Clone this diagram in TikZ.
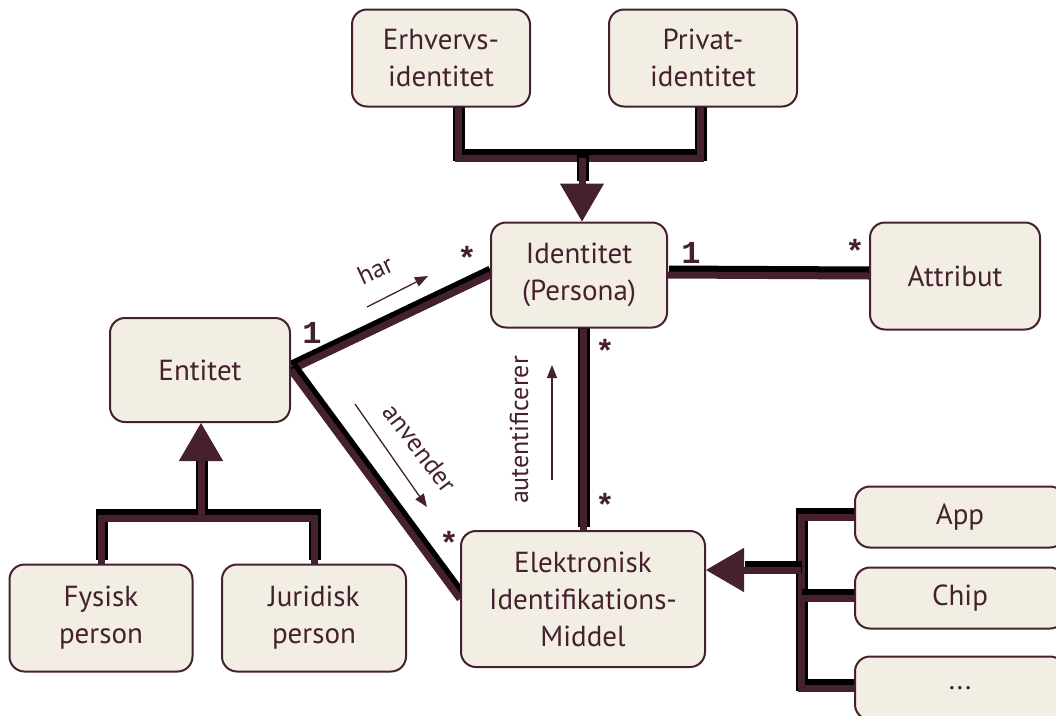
\documentclass[tikz,border=0pt]{standalone}
\usepackage{fontspec}
\setmainfont{PT Sans}
\newfontfamily\multfont{Liberation Mono}
\usetikzlibrary{arrows.meta,backgrounds}
\definecolor{boxfill}{HTML}{F3EEE3}
\definecolor{wine}{HTML}{45202F}

\tikzset{
  box/.style={draw=wine, line width=2pt, fill=boxfill, rounded corners=15pt, text=wine,
    align=center, font=\fontsize{29}{37}\selectfont, inner sep=0pt},
  link/.style={draw=wine, line width=7pt,
    preaction={draw=black, line width=12pt, transform canvas={shift={(1pt,3.5pt)}}}},
  genarrow/.style={draw=wine, fill=wine, line width=1pt, -{Triangle[width=44pt,length=38pt]}},
  mult/.style={text=wine, font=\multfont\bfseries\fontsize{32}{32}\selectfont, inner sep=0pt},
  rolle/.style={text=wine, font=\fontsize{26}{26}\selectfont, inner sep=0pt},
  hint/.style={draw=wine, line width=1.3pt, -{Triangle[width=10pt,length=13pt]}}
}

\begin{document}
\begin{tikzpicture}[x=1pt, y=-1pt]
        \useasboundingbox (0,0) rectangle (1056,715);

        % Identiteter
        \node[box, minimum width=178pt, minimum height=97pt] (erhverv) at (441,58) {Erhvervs-\\identitet};
        \node[box, minimum width=188pt, minimum height=97pt] (privat) at (703,58) {Privat-\\identitet};
        \node[box, minimum width=176pt, minimum height=105pt] (ident) at (579,275) {Identitet\\(Persona)};
        \node[box, minimum width=170pt, minimum height=107pt] (attrib) at (955,276) {Attribut};

        % Entiteter
        \node[box, minimum width=180pt, minimum height=104pt] (entitet) at (200,370) {Entitet};
        \node[box, minimum width=183pt, minimum height=107pt] (fysisk) at (101,618) {Fysisk\\person};
        \node[box, minimum width=184pt, minimum height=107pt] (juridisk) at (314,618) {Juridisk\\person};

        % Midler
        \node[box, minimum width=244pt, minimum height=136pt] (eim) at (583,599) {Elektronisk\\Identifikations-\\Middel};
        \node[box, minimum width=210pt, minimum height=61pt] (app) at (960,517) {App};
        \node[box, minimum width=210pt, minimum height=61pt] (chip) at (960,598) {Chip};
        \node[box, minimum width=210pt, minimum height=63pt] (dots) at (960,688) {...};

        \coordinate (idjoin) at (582,158);
        \coordinate (idtip) at (582,184);
        \coordinate (entjoin) at (201,518);
        \coordinate (enttip) at (201,461);
        \coordinate (eimjoin) at (801,570);
        \coordinate (eimtip) at (744,570);

        \begin{scope}[on background layer]
        % Associationer
        \draw[link] (entitet.east) -- (ident.west);
        \draw[link] (entitet.east) -- (eim.west);
        \draw[link] (eim.north |- ident.south) -- (eim.north);
        \draw[link] (ident.east) -- (attrib.west);

        % Generalisering
        \draw[link] ([xshift=17pt]erhverv.south) |- (idjoin) -| ([xshift=-3pt]privat.south);
        \draw[link] (idjoin) -- (idtip);
        \draw[link] (fysisk.north) |- (entjoin) -| (juridisk.north);
        \draw[link] (entjoin) -- (enttip);
        \draw[link] (app.west) -| (eimjoin |- dots.west) -- (dots.west);
        \draw[link] (chip.west) -- (eimjoin |- chip.west);
        \draw[link] (eimjoin) -- (eimtip);
        \end{scope}
        \draw[genarrow] (idtip) -- (idjoin |- ident.north);
        \draw[genarrow] (enttip) -- (entjoin |- entitet.south);
        \draw[genarrow] (eimtip) -- (eim.east |- eimjoin);

        % Multipliciteter
        \node[mult] (m1) at (312,333) {1};
        \node[mult] (m2) at (467,258) {*};
        \node[mult] (m3) at (691,253) {1};
        \node[mult] (m4) at (855,251) {*};
        \node[mult] (m5) at (605,351) {*};
        \node[mult] (m6) at (605,505) {*};
        \node[mult] (m7) at (449,543) {*};

        % Roller
        \node[rolle, rotate=25] (har) at (375,270) {har};
        \coordinate (harA) at (367,307);
        \coordinate (harB) at (428,276);
        \draw[hint] (harA) -- (harB);

        \node[rolle, rotate=-53] (anv) at (420,448) {anvender};
        \coordinate (anvA) at (355,404);
        \coordinate (anvB) at (427,507);
        \draw[hint] (anvA) -- (anvB);

        \node[rolle, rotate=90] (aut) at (519,430) {autentificerer};
        \coordinate (autA) at (552,480);
        \coordinate (autB) at (552,365);
        \draw[hint] (autA) -- (autB);
    \end{tikzpicture}
\end{document}
